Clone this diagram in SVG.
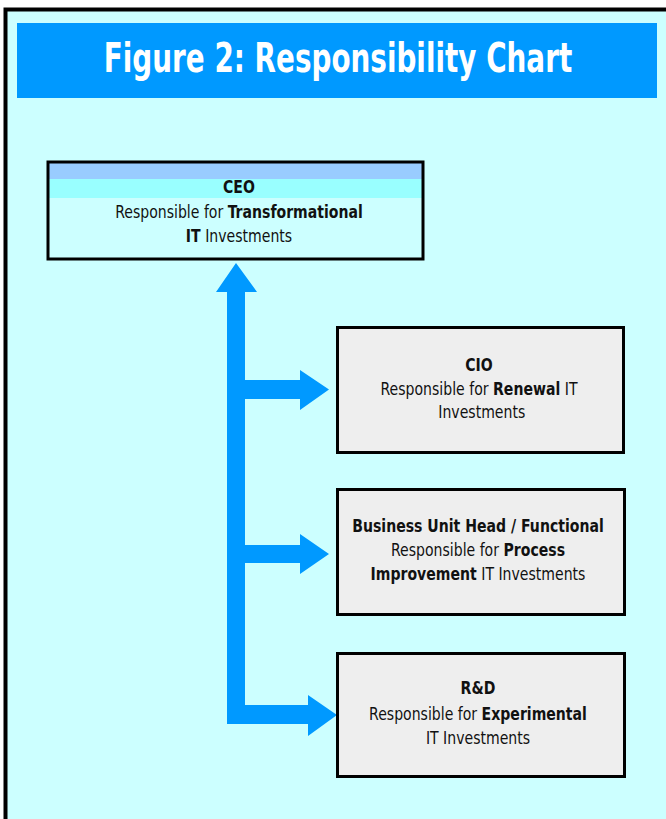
<svg xmlns="http://www.w3.org/2000/svg" width="666" height="819" viewBox="0 0 666 819">
<defs>
<style>
.t{font-family:"DejaVu Sans Condensed","DejaVu Sans","Liberation Sans",sans-serif;font-size:17px;fill:#111;text-anchor:middle}
.b{font-weight:bold}
.box{fill:#EEEEEE;stroke:#000;stroke-width:3}
.arr{fill:#0099FF}
</style>
</defs>
<rect x="0" y="0" width="666" height="819" fill="#FFFFFF"/>
<rect x="5.5" y="9.5" width="670" height="820" fill="#CCFFFF" stroke="#000" stroke-width="4"/>
<g id="title">
<rect x="17" y="23" width="640" height="75" fill="#0099FF"/>
<g transform="translate(338,0) scale(0.696,1)">
<text x="0" y="72" font-family="DejaVu Sans, sans-serif" font-weight="bold" font-size="40" fill="#FFFFFF" text-anchor="middle">Figure 2: Responsibility Chart</text>
</g>
</g>
<g id="connectors">
<polygon class="arr" points="236,263 257,292 245,292 245,380 300,380 300,370 329,389.5 300,410 300,399 245,399 245,545 300,545 300,534 329,554 300,574 300,563 245,563 245,705 308,705 308,695 337,715 308,736 308,724 227,724 227,292 216,292"/>
</g>
<g id="ceo">
<rect x="48" y="162" width="375" height="97" fill="#CCFFFF"/>
<rect x="48" y="162" width="375" height="17" fill="#99CCFF"/>
<rect x="48" y="179" width="375" height="19" fill="#99FFFF"/>
<rect x="48" y="162" width="375" height="97" fill="none" stroke="#000" stroke-width="3"/>
<g transform="translate(239,0) scale(0.92,1)">
<text class="t b" x="0" y="193">CEO</text>
<text class="t" x="0" y="218">Responsible for <tspan class="b">Transformational</tspan></text>
<text class="t" x="0" y="242"><tspan class="b">IT</tspan> Investments</text>
</g>
</g>
<g id="cio">
<rect class="box" x="337.5" y="327.5" width="286" height="125"/>
<g transform="translate(479,0) scale(0.92,1)">
<text class="t b" x="0" y="371">CIO</text>
<text class="t" x="0" y="395">Responsible for <tspan class="b">Renewal</tspan> IT</text>
<text class="t" x="3" y="418">Investments</text>
</g>
</g>
<g id="buhead">
<rect class="box" x="337.5" y="489.5" width="287" height="125"/>
<g transform="translate(478,0) scale(0.92,1)">
<text class="t b" x="0" y="532">Business Unit Head / Functional</text>
<text class="t" x="0" y="556">Responsible for <tspan class="b">Process</tspan></text>
<text class="t" x="0" y="580"><tspan class="b">Improvement</tspan>  IT Investments</text>
</g>
</g>
<g id="rnd">
<rect class="box" x="337.5" y="653.5" width="287" height="123"/>
<g transform="translate(478,0) scale(0.92,1)">
<text class="t b" x="0" y="694">R&amp;D</text>
<text class="t" x="0" y="720">Responsible for <tspan class="b">Experimental</tspan></text>
<text class="t" x="0" y="744">IT Investments</text>
</g>
</g>
</svg>
